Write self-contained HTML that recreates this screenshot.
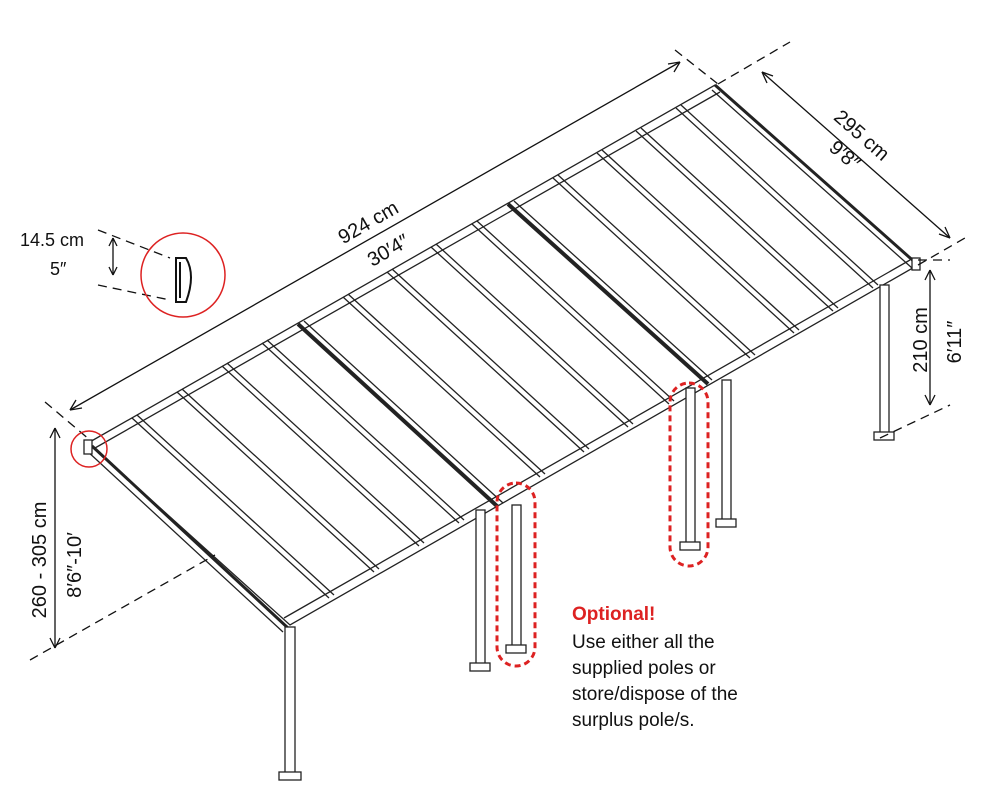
<!DOCTYPE html>
<html><head><style>
body{margin:0;background:#fff}
svg{display:block}
text{font-family:"Liberation Sans",sans-serif;fill:#111}
</style></head><body>
<svg width="1000" height="800" viewBox="0 0 1000 800" xmlns="http://www.w3.org/2000/svg">
<g stroke="#222" fill="none" stroke-width="1.3">
<polygon points="88,443 715,85 918,265 290,625" fill="#fff"/>
<line x1="95" y1="448" x2="720" y2="92"/>
<line x1="284" y1="618" x2="910" y2="260"/>
<line x1="92" y1="446" x2="288" y2="628" stroke-width="3"/>
<line x1="86" y1="450" x2="283" y2="632"/>
<line x1="715" y1="85" x2="918" y2="265" stroke-width="3"/>
<line x1="712" y1="90" x2="912" y2="268"/>
<g>
<line x1="132" y1="418" x2="329" y2="598"/><line x1="137" y1="415" x2="334" y2="595"/>
<line x1="177" y1="392" x2="374" y2="572"/><line x1="182" y1="389" x2="379" y2="569"/>
<line x1="222" y1="366" x2="419" y2="546"/><line x1="227" y1="363" x2="424" y2="543"/>
<line x1="262" y1="343" x2="459" y2="523"/><line x1="267" y1="340" x2="464" y2="520"/>
<line x1="343" y1="297" x2="540" y2="477"/><line x1="348" y1="294" x2="545" y2="474"/>
<line x1="387" y1="272" x2="584" y2="452"/><line x1="392" y1="269" x2="589" y2="449"/>
<line x1="431" y1="247" x2="628" y2="427"/><line x1="436" y1="244" x2="633" y2="424"/>
<line x1="472" y1="224" x2="669" y2="404"/><line x1="477" y1="221" x2="674" y2="401"/>
<line x1="553" y1="178" x2="750" y2="358"/><line x1="558" y1="175" x2="755" y2="355"/>
<line x1="597" y1="153" x2="794" y2="333"/><line x1="602" y1="150" x2="799" y2="330"/>
<line x1="636" y1="131" x2="833" y2="311"/><line x1="641" y1="128" x2="838" y2="308"/>
<line x1="676" y1="108" x2="873" y2="288"/><line x1="681" y1="105" x2="878" y2="285"/>
</g>
<line x1="298" y1="324" x2="498" y2="507" stroke-width="4"/>
<line x1="304" y1="321" x2="503" y2="503"/>
<line x1="508" y1="204" x2="708" y2="384" stroke-width="4"/>
<line x1="514" y1="201" x2="712" y2="380"/>
<rect x="285" y="627" width="10" height="148" fill="#fff"/><rect x="279" y="772" width="22" height="8" fill="#fff"/>
<rect x="476" y="510" width="9" height="158" fill="#fff"/><rect x="470" y="663" width="20" height="8" fill="#fff"/>
<rect x="512" y="505" width="9" height="143" fill="#fff"/><rect x="506" y="645" width="20" height="8" fill="#fff"/>
<rect x="686" y="388" width="9" height="157" fill="#fff"/><rect x="680" y="542" width="20" height="8" fill="#fff"/>
<rect x="722" y="380" width="9" height="142" fill="#fff"/><rect x="716" y="519" width="20" height="8" fill="#fff"/>
<rect x="880" y="285" width="9" height="150" fill="#fff"/><rect x="874" y="432" width="20" height="8" fill="#fff"/>
<rect x="912" y="258" width="8" height="12" fill="#fff"/>
<rect x="84" y="440" width="8" height="14" fill="#fff"/>
</g>
<g stroke="#111" stroke-width="1.3" fill="none">
<line x1="70" y1="410" x2="680" y2="62"/>
<path d="M70,410 l12,-2 M70,410 l6,-10 M680,62 l-12,2 M680,62 l-6,10"/>
<line x1="762" y1="72" x2="950" y2="238"/>
<path d="M762,72 l5,11 M762,72 l11,4 M950,238 l-5,-11 M950,238 l-11,-4"/>
<line x1="930" y1="270" x2="930" y2="405"/>
<path d="M930,270 l-5,10 M930,270 l5,10 M930,405 l-5,-10 M930,405 l5,-10"/>
<line x1="55" y1="428" x2="55" y2="648"/>
<path d="M55,428 l-5,10 M55,428 l5,10 M55,648 l-5,-10 M55,648 l5,-10"/>
<line x1="113" y1="238" x2="113" y2="275"/>
<path d="M113,238 l-4,8 M113,238 l4,8 M113,275 l-4,-8 M113,275 l4,-8"/>
</g>
<g stroke="#111" stroke-width="1.3" stroke-dasharray="9,6" fill="none">
<line x1="45" y1="402" x2="90" y2="440"/>
<line x1="675" y1="50" x2="718" y2="84"/>
<line x1="718" y1="84" x2="790" y2="42"/>
<line x1="918" y1="265" x2="965" y2="238"/>
<line x1="918" y1="260" x2="950" y2="260"/>
<line x1="880" y1="438" x2="950" y2="405"/>
<line x1="30" y1="660" x2="215" y2="555"/>
<line x1="98" y1="230" x2="170" y2="258"/>
<line x1="98" y1="285" x2="170" y2="300"/>
</g>
<g stroke="#d22" fill="none">
<circle cx="183" cy="275" r="42" stroke-width="1.5"/>
<circle cx="89" cy="449" r="18" stroke-width="1.5"/>
<rect x="497" y="483" width="38" height="183" rx="19" stroke-width="3" stroke-dasharray="6,4"/>
<rect x="670" y="383" width="38" height="183" rx="19" stroke-width="3" stroke-dasharray="6,4"/>
</g>
<path d="M176,258 L186,258 Q196,275 186,302 L176,302 Z M180,262 L180,298" stroke="#111" stroke-width="2" fill="#fff"/>
<g text-anchor="middle" font-size="20">
<text x="368" y="229" transform="rotate(-30 368 222)">924 cm</text>
<text x="388" y="257" transform="rotate(-30 388 250)">30′4″</text>
<text x="862" y="142" transform="rotate(41 862 135)">295 cm</text>
<text x="845" y="162" transform="rotate(41 845 155)">9′8″</text>
<text transform="translate(927,340) rotate(-90)">210 cm</text>
<text transform="translate(961,342) rotate(-90)">6′11″</text>
<text transform="translate(46,560) rotate(-90)">260 - 305 cm</text>
<text transform="translate(81,565) rotate(-90)">8′6″-10′</text>
</g>
<text x="20" y="246" font-size="18">14.5 cm</text>
<text x="50" y="275" font-size="18">5″</text>
<text x="572" y="620" font-size="19" font-weight="bold" style="fill:#d22">Optional!</text>
<text x="572" y="648" font-size="19">Use either all the</text>
<text x="572" y="674" font-size="19">supplied poles or</text>
<text x="572" y="700" font-size="19">store/dispose of the</text>
<text x="572" y="726" font-size="19">surplus pole/s.</text>
</svg>
</body></html>
